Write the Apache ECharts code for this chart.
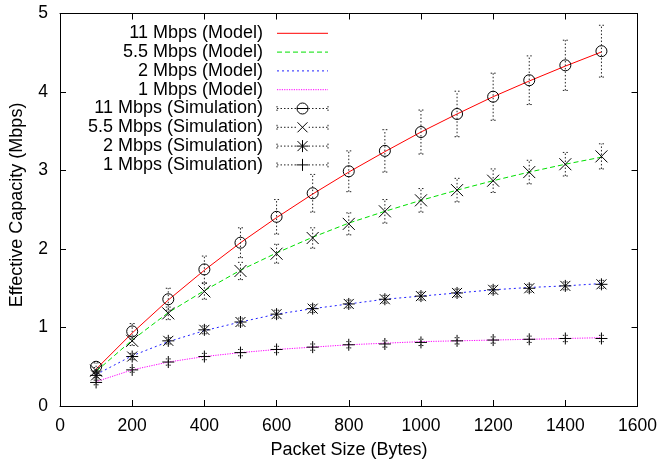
<!DOCTYPE html>
<html><head><meta charset="utf-8">
<script src="https://cdn.jsdelivr.net/npm/echarts@6/dist/echarts.min.js"></script>
<style>html,body{margin:0;padding:0;background:#fff}#c{width:660px;height:461px}</style>
</head><body><div id="c"></div>
<script>
// ---- data ----
const packetSizes = [100,200,300,400,500,600,700,800,900,1000,1100,1200,1300,1400,1500];
const model11 = [0.47,0.93,1.35,1.73,2.08,2.40,2.70,2.98,3.24,3.49,3.72,3.94,4.14,4.33,4.51];
const model55 = [0.44,0.84,1.19,1.47,1.73,1.95,2.15,2.33,2.48,2.62,2.75,2.87,2.98,3.08,3.17];
const model2  = [0.40,0.64,0.82,0.96,1.07,1.17,1.24,1.30,1.36,1.40,1.44,1.48,1.51,1.53,1.56];
const model1  = [0.31,0.46,0.56,0.63,0.68,0.72,0.75,0.78,0.80,0.82,0.83,0.84,0.85,0.86,0.87];
const sim11 = [0.50,0.95,1.36,1.74,2.08,2.41,2.71,2.99,3.25,3.49,3.72,3.94,4.15,4.34,4.52];
const sim55 = [0.45,0.83,1.18,1.46,1.72,1.94,2.14,2.32,2.48,2.62,2.75,2.87,2.98,3.08,3.18];
const sim2  = [0.39,0.63,0.83,0.97,1.07,1.17,1.24,1.30,1.36,1.40,1.44,1.48,1.50,1.53,1.55];
const sim1  = [0.30,0.46,0.56,0.63,0.68,0.72,0.75,0.78,0.79,0.81,0.83,0.84,0.85,0.86,0.86];
const err11 = [0.05,0.10,0.14,0.17,0.19,0.22,0.24,0.26,0.27,0.28,0.29,0.30,0.31,0.32,0.33];
const err55 = [0.04,0.06,0.08,0.10,0.11,0.12,0.13,0.14,0.15,0.15,0.15,0.15,0.15,0.15,0.16];
const err2  = [0.03,0.04,0.04,0.05,0.05,0.05,0.05,0.05,0.05,0.05,0.05,0.05,0.05,0.05,0.05];
const err1  = [0.03,0.03,0.04,0.04,0.04,0.04,0.04,0.04,0.04,0.04,0.04,0.04,0.04,0.04,0.04];
const modelNames = ['11 Mbps (Model)','5.5 Mbps (Model)','2 Mbps (Model)','1 Mbps (Model)'];
const simNames = ['11 Mbps (Simulation)','5.5 Mbps (Simulation)','2 Mbps (Simulation)','1 Mbps (Simulation)'];
const xTitle = 'Packet Size (Bytes)';
const yTitle = 'Effective Capacity (Mbps)';

// ---- styles ----
const FONT = "'Liberation Sans', Arial, Helvetica, sans-serif";
const modelStyles = [
  {color:'#ff0000', type:'solid'},
  {color:'#00e000', type:[5,3]},
  {color:'#2020ff', type:[2,3]},
  {color:'#ff00ff', type:[1.2,1.2]}
];
const symX = 'path://M0,0L10,10M10,0L0,10';
const symStar = 'path://M0,0L10,10M10,0L0,10M5,-1L5,11M-1,5L11,5';
const symPlus = 'path://M5,0L5,10M0,5L10,5';
const simSymbols = ['circle', symX, symStar, symPlus];
const simSizes = [11, 12, 12, 12];

const models = [model11, model55, model2, model1];
const sims = [sim11, sim55, sim2, sim1];
const errs = [err11, err55, err2, err1];

const series = [];
models.forEach((m, k) => {
  series.push({
    name: modelNames[k], type:'line', data: packetSizes.map((x,i)=>[x,m[i]]),
    showSymbol:false, symbol:'none', z:2, silent:true,
    lineStyle:{color:modelStyles[k].color, type:modelStyles[k].type, width:1}
  });
});
sims.forEach((s, k) => {
  series.push({
    name: simNames[k]+' err', type:'custom', z:3, silent:true,
    data: packetSizes.map((x,i)=>[x, s[i]-errs[k][i], s[i]+errs[k][i]]),
    encode:{x:0, y:[1,2]},
    renderItem(params, api){
      const x = api.value(0);
      const lo = api.coord([x, api.value(1)]);
      const hi = api.coord([x, api.value(2)]);
      const w = 2.5;
      const st = {stroke:'#222', lineWidth:1, lineDash:[1.5,2]};
      return {type:'group', children:[
        {type:'line', shape:{x1:lo[0],y1:lo[1],x2:hi[0],y2:hi[1]}, style:st},
        {type:'line', shape:{x1:lo[0]-w,y1:lo[1],x2:lo[0]+w,y2:lo[1]}, style:st},
        {type:'line', shape:{x1:hi[0]-w,y1:hi[1],x2:hi[0]+w,y2:hi[1]}, style:st}
      ]};
    }
  });
  series.push({
    name: simNames[k], type:'scatter', z:4, silent:true,
    data: packetSizes.map((x,i)=>[x,s[i]]),
    symbol: simSymbols[k], symbolSize: simSizes[k],
    itemStyle:{color:'none', borderColor:'#000', borderWidth:1, opacity:1}
  });
});

// ---- legend (gnuplot style key) ----
const graphics = [];
const keyTextRight = 263, keyX1 = 277, keyX2 = 328, keyY0 = 33.3, keyDy = 18.8;
modelNames.forEach((n, k) => {
  const y = keyY0 + keyDy*k;
  graphics.push({type:'text', x:keyTextRight, y:y, style:{text:n, font:'18px '+FONT, fill:'#000', align:'right', verticalAlign:'middle'}});
  graphics.push({type:'line', shape:{x1:keyX1,y1:y,x2:keyX2,y2:y}, style:{stroke:modelStyles[k].color, lineWidth:1, lineDash:modelStyles[k].type==='solid'?null:modelStyles[k].type}});
});
// marker strokes for key (relative segments)
const legendSegs = [
  null,
  [[-5,-5,5,5],[5,-5,-5,5]],
  [[-5,-5,5,5],[5,-5,-5,5],[0,-6,0,6],[-6,0,6,0]],
  [[0,-6,0,6],[-6,0,6,0]]
];
simNames.forEach((n, k) => {
  const y = keyY0 + keyDy*(k+4);
  const cx = (keyX1+keyX2)/2;
  graphics.push({type:'text', x:keyTextRight, y:y, style:{text:n, font:'18px '+FONT, fill:'#000', align:'right', verticalAlign:'middle'}});
  const st = {stroke:'#222', lineWidth:1, lineDash:[1.5,2]};
  graphics.push({type:'line', shape:{x1:keyX1,y1:y,x2:keyX2,y2:y}, style:st});
  graphics.push({type:'line', shape:{x1:keyX1,y1:y-2.5,x2:keyX1,y2:y+2.5}, style:st});
  graphics.push({type:'line', shape:{x1:keyX2,y1:y-2.5,x2:keyX2,y2:y+2.5}, style:st});
  if (k === 0) {
    graphics.push({type:'circle', shape:{cx:cx, cy:y, r:5.5}, style:{fill:'#fff', stroke:'#000', lineWidth:1}});
    graphics.push({type:'line', shape:{x1:cx-5.5,y1:y,x2:cx+5.5,y2:y}, style:{stroke:'#000', lineWidth:1}});
  } else {
    graphics.push({type:'rect', shape:{x:cx-6, y:y-6, width:12, height:12}, style:{fill:'#fff'}});
    legendSegs[k].forEach(sg => {
      graphics.push({type:'line', shape:{x1:cx+sg[0], y1:y+sg[1], x2:cx+sg[2], y2:y+sg[3]}, style:{stroke:'#000', lineWidth:1}});
    });
  }
});
graphics.push({type:'text', x:349, y:450, style:{text:xTitle, font:'18px '+FONT, fill:'#000', align:'center', verticalAlign:'middle'}});
graphics.push({type:'text', x:17, y:205, rotation:Math.PI/2, style:{text:yTitle, font:'18px '+FONT, fill:'#000', align:'center', verticalAlign:'middle'}});

const axisCommon = {
  axisLine:{show:true, onZero:false, lineStyle:{color:'#000', width:1}},
  axisTick:{show:true, inside:true, length:6, lineStyle:{color:'#000', width:1}},
  splitLine:{show:false}
};
const labelStyle = {color:'#000', fontSize:17.5, fontFamily:FONT, formatter: v => String(v)};

const option = {
  animation:false,
  backgroundColor:'#fff',
  grid:{left:60, right:22, top:13.5, bottom:55},
  xAxis:[
    Object.assign({type:'value', min:0, max:1600, interval:200, position:'bottom',
      axisLabel:Object.assign({margin:11}, labelStyle)}, axisCommon),
    Object.assign({type:'value', min:0, max:1600, interval:200, position:'top',
      axisLabel:{show:false}}, axisCommon)
  ],
  yAxis:[
    Object.assign({type:'value', min:0, max:5, interval:1, position:'left',
      axisLabel:Object.assign({margin:12}, labelStyle)}, axisCommon),
    Object.assign({type:'value', min:0, max:5, interval:1, position:'right',
      axisLabel:{show:false}}, axisCommon)
  ],
  series: series,
  graphic: graphics
};
const chart = echarts.init(document.getElementById('c'), null, {renderer:'canvas'});
chart.setOption(option);
</script>
</body></html>
